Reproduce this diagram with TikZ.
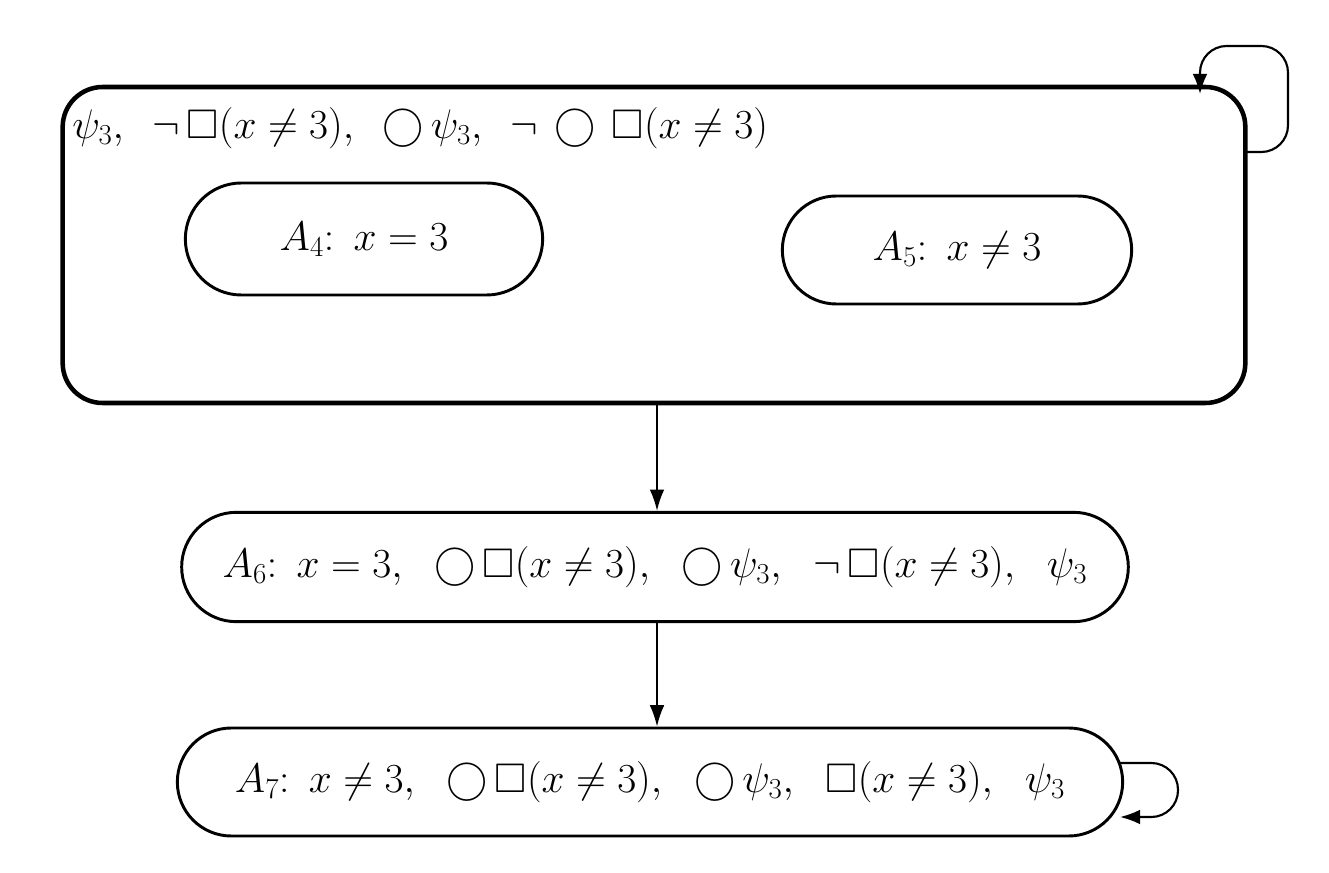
\documentclass[tikz,border=0pt]{standalone}
\usepackage{fix-cm}
\usepackage{amssymb}
\usetikzlibrary{arrows.meta,shapes.misc}
\newcommand{\nx}{x\neq 3}
\begin{document}
\begin{tikzpicture}[x=0.75pt,y=-0.75pt,
  bigbox/.style={draw, line width=3.4pt, rounded corners=30pt, inner sep=0pt},
  state/.style={draw, line width=2.2pt, rounded rectangle, inner sep=0pt},
  lbl/.style={inner sep=0pt, font=\fontsize{31}{37}\selectfont},
  conn/.style={line width=1.4pt, -{Latex[length=16pt,width=11pt]}},
  loopc/.style={line width=1.6pt, rounded corners=20pt, -{Latex[length=15pt,width=11pt]}}]
\useasboundingbox (0,0) rectangle (1329,873);
% big superstate
\node[bigbox, minimum width=887pt, minimum height=237pt] (big) at (654,245) {};
\node[lbl, anchor=west] (biglbl) at (72,128)
  {$\psi_3,\ \:\neg\,\Box(\nx),\ \:\bigcirc\,\psi_3,\ \:\neg\,\bigcirc\,\Box(\nx)$};
\node[state, minimum width=268pt, minimum height=84pt, lbl] (a4) at (364,239) {$A_4\colon\ x=3$};
\node[state, minimum width=262pt, minimum height=81pt, lbl] (a5) at (957,250) {$A_5\colon\ x\neq3$};
\node[state, minimum width=710pt, minimum height=82pt, lbl] (a6) at (655,567)
  {$A_6\colon\ x=3,\ \ \bigcirc\,\Box(\nx),\ \ \bigcirc\,\psi_3,\ \ \neg\,\Box(\nx),\ \ \psi_3$};
\node[state, minimum width=709pt, minimum height=81pt, lbl] (a7) at (650,782)
  {$A_7\colon\ x\neq3,\ \ \bigcirc\,\Box(\nx),\ \ \bigcirc\,\psi_3,\ \ \Box(\nx),\ \ \psi_3$};
% connectors
\draw[conn] (big.south -| 657,0) -- (a6.north -| 657,0);
\draw[conn] (a6.south -| 657,0) -- (a7.north -| 657,0);
% self loops
\coordinate (l1s) at (1247,152);
\coordinate (l1e) at (1200,94);
\draw[loopc] (l1s) -- (1288,152) -- (1288,46) -- (1200,46) -- (l1e);
\coordinate (l2s) at (1118,763);
\coordinate (l2e) at (1120,817);
\draw[loopc] (l2s) -- (1178,763) -- (1178,817) -- (l2e);
\end{tikzpicture}
\end{document}
